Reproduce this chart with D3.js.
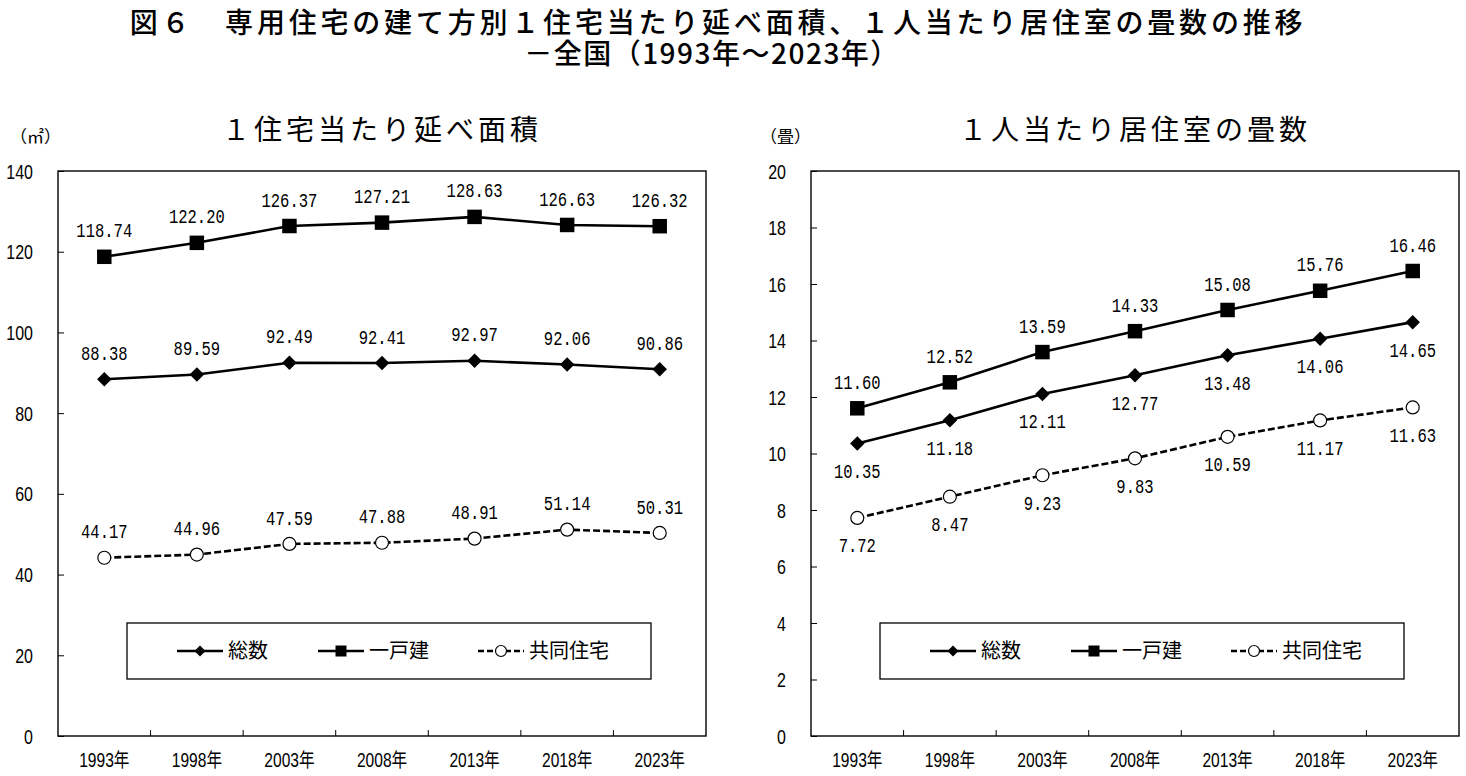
<!DOCTYPE html>
<html>
<head>
<meta charset="utf-8">
<script src="https://cdn.jsdelivr.net/npm/d3@7"></script>
<style>
  body { margin: 0; background: #fff; }
  svg { display: block; }
</style>
</head>
<body>
<svg id="chart" width="1466" height="776"></svg>
<script>
// Data
const years = ["1993年", "1998年", "2003年", "2008年", "2013年", "2018年", "2023年"];
const seriesNames = ["総数", "一戸建", "共同住宅"];

// 1住宅当たり延べ面積 (㎡)
const areaTotal = [88.38, 89.59, 92.49, 92.41, 92.97, 92.06, 90.86];
const areaDetached = [118.74, 122.20, 126.37, 127.21, 128.63, 126.63, 126.32];
const areaApartment = [44.17, 44.96, 47.59, 47.88, 48.91, 51.14, 50.31];
const areaTicks = [0, 20, 40, 60, 80, 100, 120, 140];

// 1人当たり居住室の畳数 (畳)
const tatamiTotal = [10.35, 11.18, 12.11, 12.77, 13.48, 14.06, 14.65];
const tatamiDetached = [11.60, 12.52, 13.59, 14.33, 15.08, 15.76, 16.46];
const tatamiApartment = [7.72, 8.47, 9.23, 9.83, 10.59, 11.17, 11.63];
const tatamiTicks = [0, 2, 4, 6, 8, 10, 12, 14, 16, 18, 20];

const JP = "'Noto Sans CJK JP', sans-serif";
const NUM = "'Liberation Sans', 'Noto Sans CJK JP', sans-serif";
const MONO = "'Liberation Mono', 'DejaVu Sans Mono', monospace";

const svg = d3.select("#chart");

// Main title
svg.append("text")
    .attr("x", 718).attr("y", 23).attr("dy", "0.36em")
    .attr("text-anchor", "middle")
    .style("font-family", JP).style("font-size", "28px").style("font-weight", "500")
    .style("letter-spacing", "3.8px")
    .text("図６　専用住宅の建て方別１住宅当たり延べ面積、１人当たり居住室の畳数の推移");
svg.append("text")
    .attr("x", 712).attr("y", 54).attr("dy", "0.36em")
    .attr("text-anchor", "middle")
    .style("font-family", JP).style("font-size", "28px").style("font-weight", "500")
    .style("letter-spacing", "1.5px")
    .text("－全国（1993年～2023年）");

let plotTop = 171;
let plotW = 648;
let plotH = 565;

// marker shapes per series
function drawMarker(sel, kind, size) {
    if (kind === "diamond") {
        sel.append("path")
            .attr("d", d3.symbol(d3.symbolSquare, size * size / 2)())
            .attr("transform", "rotate(45)")
            .attr("fill", "#000");
    } else if (kind === "square") {
        sel.append("path")
            .attr("d", d3.symbol(d3.symbolSquare, size * size)())
            .attr("fill", "#000");
    } else {
        sel.append("circle")
            .attr("r", size / 2)
            .attr("fill", "#fff")
            .attr("stroke", "#000")
            .attr("stroke-width", 1.2);
    }
}

function drawPanel(opt) {
    let g = svg.append("g").attr("transform", `translate(${opt.left},${plotTop})`);

    let x = d3.scaleBand().domain(years).range([0, plotW]);
    let y = d3.scaleLinear().domain([0, opt.yMax]).range([plotH, 0]);
    let cx = (i) => x(years[i]) + x.bandwidth() / 2;

    // panel title and unit
    svg.append("text")
        .attr("x", opt.left + plotW / 2).attr("y", 130).attr("dy", "0.36em")
        .attr("text-anchor", "middle")
        .style("font-family", JP).style("font-size", "28px")
        .style("letter-spacing", "4px")
        .text(opt.title);
    svg.append("text")
        .attr("x", opt.unitX).attr("y", 137).attr("dy", "0.36em")
        .style("font-family", JP).style("font-size", "17px")
        .text(opt.unit);

    // y axis, ticks pointing inward
    g.append("g")
        .call(d3.axisLeft(y).tickValues(opt.ticks).tickSize(-6).tickPadding(0).tickFormat(d3.format("d")))
        .call((a) => {
            a.select(".domain").remove();
            a.selectAll(".tick line").attr("stroke", "#000");
            a.selectAll(".tick text")
                .attr("x", -25 / 0.82)
                .attr("transform", "scale(0.82,1)")
                .attr("dy", "0.36em")
                .style("font-family", NUM).style("font-size", "19.5px").attr("fill", "#000");
        });

    // x axis labels at category centres
    g.append("g")
        .attr("transform", `translate(0,${plotH})`)
        .call(d3.axisBottom(x).tickSize(0).tickPadding(0))
        .call((a) => {
            a.select(".domain").remove();
            a.selectAll(".tick text")
                .attr("x", 0)
                .attr("y", 24).attr("dy", "0.36em")
                .attr("transform", "scale(0.8,1)")
                .style("font-family", NUM).style("font-size", "19.5px").attr("fill", "#000");
        });

    // x tick marks at category boundaries, pointing up
    g.selectAll("line.xtick")
        .data(years.slice(1))
        .join("line")
        .attr("class", "xtick")
        .attr("x1", (d) => x(d)).attr("x2", (d) => x(d))
        .attr("y1", plotH).attr("y2", plotH - 6)
        .attr("stroke", "#000");

    // frame
    g.append("rect")
        .attr("width", plotW).attr("height", plotH)
        .attr("fill", "none").attr("stroke", "#000").attr("stroke-width", 1.4);

    let line = d3.line().x((d, i) => cx(i)).y((d) => y(d));

    opt.series.forEach((s) => {
        g.append("path")
            .datum(s.values)
            .attr("d", line)
            .attr("fill", "none")
            .attr("stroke", "#000")
            .attr("stroke-width", 2.6)
            .attr("stroke-dasharray", s.dashed ? "7,3" : null);

        let pts = g.selectAll(null)
            .data(s.values)
            .join("g")
            .attr("transform", (d, i) => `translate(${cx(i)},${y(d)})`);
        drawMarker(pts, s.marker, s.marker === "circle" ? 13 : 14.5);

        g.selectAll(null)
            .data(s.values)
            .join("text")
            .attr("transform", (d, i) => `translate(${cx(i)},${y(d) + (s.below ? 27 : -27)}) scale(0.74,1)`)
            .attr("dy", "0.36em")
            .attr("text-anchor", "middle")
            .style("font-family", MONO).style("font-size", "21px")
            .text((d) => d.toFixed(2));
    });

    // legend
    let lg = g.append("g").attr("transform", "translate(69,452)");
    lg.append("rect")
        .attr("width", 524).attr("height", 56)
        .attr("fill", "#fff").attr("stroke", "#000").attr("stroke-width", 1.3);
    let legendX = [50, 191, 351];
    opt.series.forEach((s, i) => {
        let item = lg.append("g").attr("transform", `translate(${legendX[i]},28)`);
        item.append("line")
            .attr("x1", 0).attr("x2", 46)
            .attr("stroke", "#000").attr("stroke-width", 2.6)
            .attr("stroke-dasharray", s.dashed ? "6,3" : null);
        drawMarker(item.append("g").attr("transform", "translate(23,0)"), s.marker, 11);
        item.append("text")
            .attr("x", 51).attr("dy", "0.36em")
            .style("font-family", JP).style("font-size", "20px")
            .text(seriesNames[i]);
    });
}

drawPanel({
    left: 58,
    title: "１住宅当たり延べ面積",
    unit: "（㎡）",
    unitX: 10,
    yMax: 140,
    ticks: areaTicks,
    series: [
        { values: areaTotal, marker: "diamond", dashed: false, below: false },
        { values: areaDetached, marker: "square", dashed: false, below: false },
        { values: areaApartment, marker: "circle", dashed: true, below: false }
    ]
});

drawPanel({
    left: 811,
    title: "１人当たり居住室の畳数",
    unit: "（畳）",
    unitX: 760,
    yMax: 20,
    ticks: tatamiTicks,
    series: [
        { values: tatamiTotal, marker: "diamond", dashed: false, below: true },
        { values: tatamiDetached, marker: "square", dashed: false, below: false },
        { values: tatamiApartment, marker: "circle", dashed: true, below: true }
    ]
});
</script>
</body>
</html>
